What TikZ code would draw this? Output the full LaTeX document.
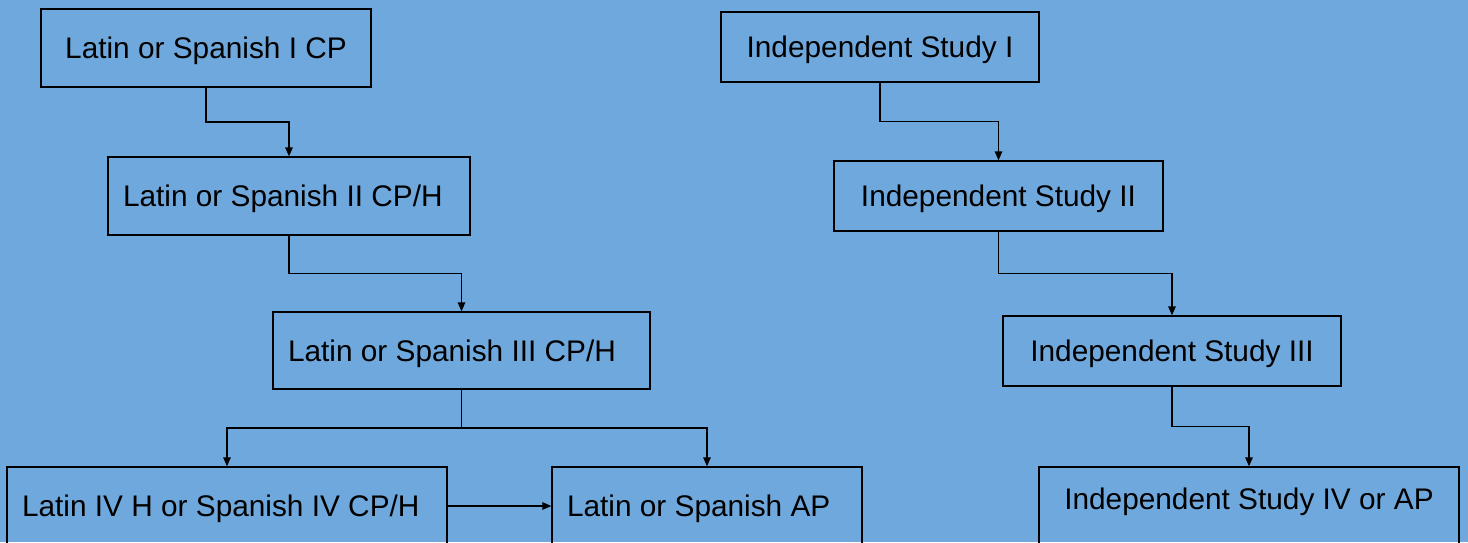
\documentclass[tikz,border=0pt]{standalone}
\usepackage{fontspec}
\setmainfont{Liberation Sans}
\usetikzlibrary{arrows.meta,calc}
\definecolor{bgblue}{RGB}{111,168,220}
\tikzset{
  box/.style={draw=black, line width=1.3pt, inner sep=0pt, text height=21pt, text depth=0pt,
    font=\fontsize{29.8}{35}\selectfont, anchor=center},
  lbox/.style={box, inner xsep=15pt, align=flush left, text width=#1},
  conn/.style={draw=black, line width=1.3pt, -{Triangle[length=9pt,width=7.5pt]}},
}
\begin{document}
\begin{tikzpicture}[x=1pt,y=-1pt]
\useasboundingbox (0,0) rectangle (1468,542);
\fill[bgblue] (0,0) rectangle (1468,542);
\clip (0,0) rectangle (1468,542);
% left column
\node[box, minimum width=330pt, minimum height=78pt] (b1) at (206,48) {Latin or Spanish I CP};
\node[lbox=332pt, minimum height=78pt] (b2) at (289,196) {Latin or Spanish II CP/H};
\node[lbox=347pt, minimum height=77pt] (b3) at (461.5,350.5) {Latin or Spanish III CP/H};
\node[lbox=410pt, minimum height=78pt] (b4) at (227,506) {Latin IV H or Spanish IV CP/H};
\node[lbox=280pt, minimum height=78pt] (b5) at (707,506) {Latin or Spanish AP};
% right column
\node[box, minimum width=318pt, minimum height=70pt] (b6) at (880,47) {Independent Study I};
\node[box, minimum width=329pt, minimum height=70pt] (b7) at (998.5,196) {Independent Study II};
\node[box, minimum width=338pt, minimum height=70pt] (b8) at (1172,351) {Independent Study III};
\node[box, minimum width=420pt, minimum height=78pt, text depth=14pt] (b9) at (1249,506) {Independent Study IV or AP};
% connectors
\draw[conn] (b1.south) |- ($(b1.south)!.5!(b2.north)$) -| (b2.north);
\draw[conn] (b2.south) |- ($(b2.south)!.5!(b3.north)$) -| (b3.north);
\coordinate (split) at ($(b3.south)!.5!(b3.south |- b4.north)$);
\draw[conn] (b3.south) -- (split) -| (b4.north);
\draw[conn] (split) -| (b5.north);
\draw[conn] (b4.east) -- (b5.west);
\draw[conn] (b6.south) |- ($(b6.south)!.5!(b7.north)$) -| (b7.north);
\draw[conn] (b7.south) |- ($(b7.south)!.5!(b8.north)$) -| (b8.north);
\draw[conn] (b8.south) |- ($(b8.south)!.5!(b9.north)$) -| (b9.north);
\end{tikzpicture}
\end{document}
